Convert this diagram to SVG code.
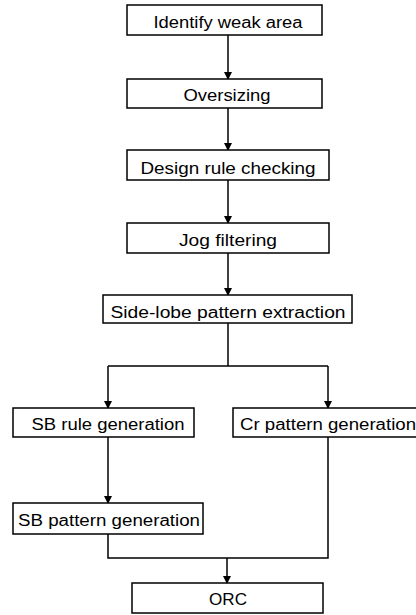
<svg xmlns="http://www.w3.org/2000/svg" width="416" height="615" viewBox="0 0 416 615">
<defs>
<marker id="ah" markerWidth="8" markerHeight="9" refX="7" refY="4" orient="auto" markerUnits="userSpaceOnUse">
<path d="M0,0 L8,4 L0,8 Z" fill="#000"/>
</marker>
<style>
.box{fill:#fff;stroke:#000;stroke-width:1.5}
.t{font-family:"Liberation Sans",Arial,sans-serif;font-size:16px;fill:#000;text-anchor:middle}
.c{fill:none;stroke:#000;stroke-width:1.5}
</style>
</defs>
<rect width="416" height="615" fill="#fff"/>
<g id="connectors">
<line class="c" x1="228" y1="35" x2="228" y2="79" marker-end="url(#ah)"/>
<line class="c" x1="228" y1="108" x2="228" y2="150" marker-end="url(#ah)"/>
<line class="c" x1="228" y1="180" x2="228" y2="223" marker-end="url(#ah)"/>
<line class="c" x1="228" y1="253" x2="228" y2="295" marker-end="url(#ah)"/>
<polyline class="c" points="228,323 228,366"/>
<polyline class="c" points="108,366 328,366"/>
<line class="c" x1="108" y1="366" x2="108" y2="408" marker-end="url(#ah)"/>
<line class="c" x1="328" y1="366" x2="328" y2="408" marker-end="url(#ah)"/>
<line class="c" x1="108" y1="437" x2="108" y2="503" marker-end="url(#ah)"/>
<polyline class="c" points="108,534 108,558 328,558 328,437"/>
<line class="c" x1="227" y1="558" x2="227" y2="583" marker-end="url(#ah)"/>
</g>
<g id="identify">
<rect class="box" x="127" y="5" width="195" height="30"/>
<text class="t" x="228" y="28" textLength="149" lengthAdjust="spacingAndGlyphs">Identify weak area</text>
</g>
<g id="oversizing">
<rect class="box" x="127" y="79" width="195" height="29"/>
<text class="t" x="227" y="101" textLength="87" lengthAdjust="spacingAndGlyphs">Oversizing</text>
</g>
<g id="drc">
<rect class="box" x="127" y="150" width="202" height="30"/>
<text class="t" x="228" y="174" textLength="175" lengthAdjust="spacingAndGlyphs">Design rule checking</text>
</g>
<g id="jog">
<rect class="box" x="127" y="223" width="202" height="30"/>
<text class="t" x="228" y="246" textLength="98" lengthAdjust="spacingAndGlyphs">Jog filtering</text>
</g>
<g id="sidelobe">
<rect class="box" x="103" y="295" width="249" height="28"/>
<text class="t" x="228" y="318" textLength="235" lengthAdjust="spacingAndGlyphs">Side-lobe pattern extraction</text>
</g>
<g id="sbrule">
<rect class="box" x="13" y="408" width="181" height="29"/>
<text class="t" x="108" y="430" textLength="153" lengthAdjust="spacingAndGlyphs">SB rule generation</text>
</g>
<g id="crpattern">
<rect class="box" x="233" y="408" width="190" height="29"/>
<text class="t" x="240" y="430" style="text-anchor:start" textLength="176" lengthAdjust="spacingAndGlyphs">Cr pattern generation</text>
</g>
<g id="sbpattern">
<rect class="box" x="13" y="503" width="190" height="31"/>
<text class="t" x="109" y="526" textLength="182" lengthAdjust="spacingAndGlyphs">SB pattern generation</text>
</g>
<g id="orc">
<rect class="box" x="132" y="583" width="191" height="30"/>
<text class="t" x="228" y="605" textLength="38" lengthAdjust="spacingAndGlyphs">ORC</text>
</g>
</svg>
